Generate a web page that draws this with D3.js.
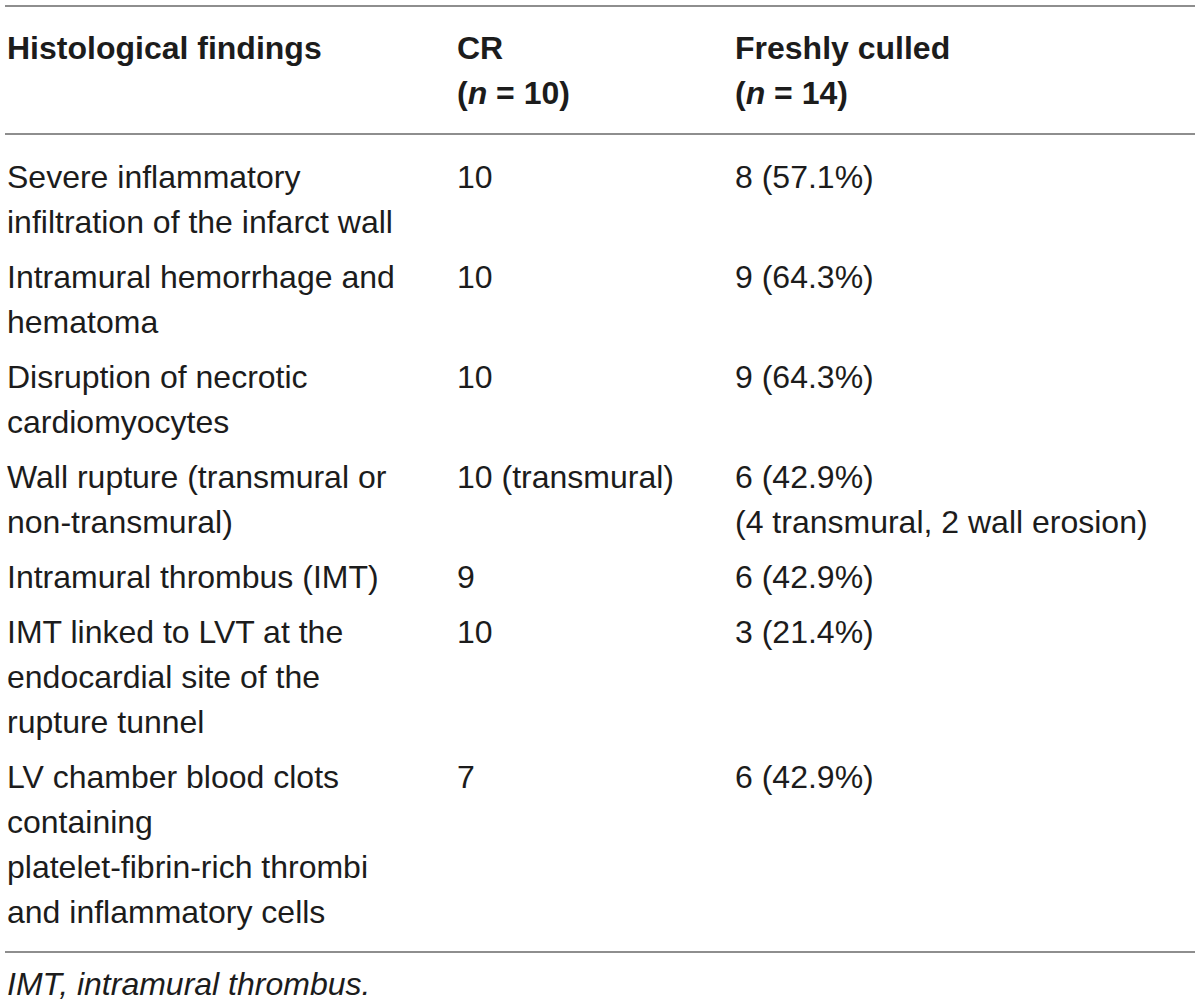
<!DOCTYPE html>
<html>
<head>
<meta charset="utf-8">
<script src="https://cdn.jsdelivr.net/npm/d3@7"></script>
<style>
  body { margin: 0; background: #fff; }
  text { font-family: "Liberation Sans", Arial, Helvetica, sans-serif; font-size: 32px; fill: #1c1c1c; }
</style>
</head>
<body>
<div id="table"></div>
<script>
// Column headers: first line, and the group size shown on the second line
const columns = ["finding", "cr", "culled"];
const headerTitles = ["Histological findings", "CR", "Freshly culled"];
const headerN = [null, 10, 14];

// Row labels, already broken into lines as in the figure
const findings = [
  ["Severe inflammatory", "infiltration of the infarct wall"],
  ["Intramural hemorrhage and", "hematoma"],
  ["Disruption of necrotic", "cardiomyocytes"],
  ["Wall rupture (transmural or", "non-transmural)"],
  ["Intramural thrombus (IMT)"],
  ["IMT linked to LVT at the", "endocardial site of the", "rupture tunnel"],
  ["LV chamber blood clots", "containing", "platelet-fibrin-rich thrombi", "and inflammatory cells"]
];
const crValues = [["10"], ["10"], ["10"], ["10 (transmural)"], ["9"], ["10"], ["7"]];
const culledValues = [
  ["8 (57.1%)"],
  ["9 (64.3%)"],
  ["9 (64.3%)"],
  ["6 (42.9%)", "(4 transmural, 2 wall erosion)"],
  ["6 (42.9%)"],
  ["3 (21.4%)"],
  ["6 (42.9%)"]
];
const footnote = "IMT, intramural thrombus.";

function drawTable() {
  d3.select("#table").html("");

  const width = 1200;
  const height = 1008;
  const lineH = 45;
  const rowGap = 10;

  const svg = d3.select("#table")
    .append("svg")
    .attr("width", width)
    .attr("height", height);

  // Column positions
  const x = d3.scaleOrdinal().domain(columns).range([7, 457, 735]);

  // Build rows: each row takes as many lines as its tallest cell
  const rows = findings.map((f, i) => ({
    cells: { finding: f, cr: crValues[i], culled: culledValues[i] },
    nLines: Math.max(f.length, crValues[i].length, culledValues[i].length)
  }));
  let acc = 0;
  rows.forEach((r, i) => { r.start = acc; r.index = i; acc += r.nLines; });
  const totalLines = acc;

  // Line index -> baseline, plus a small gap per row
  const firstBaseline = 188;
  const y = d3.scaleLinear().domain([0, 1]).range([firstBaseline, firstBaseline + lineH]);
  const rowY = (r, k) => y(r.start + k) + r.index * rowGap;

  // Rules
  const ruleY = [6, 134, y(totalLines - 1) + (rows.length - 1) * rowGap + 29];
  svg.selectAll(".rule")
    .data(ruleY)
    .enter()
    .append("line")
    .attr("class", "rule")
    .attr("x1", 5)
    .attr("x2", 1195)
    .attr("y1", (d) => d)
    .attr("y2", (d) => d)
    .attr("stroke", "#8e8e8e")
    .attr("stroke-width", 2);

  // Header
  const head = svg.selectAll(".head")
    .data(columns)
    .enter()
    .append("g")
    .attr("class", "head");

  head.append("text")
    .attr("x", (d) => x(d))
    .attr("y", 59)
    .style("font-weight", "bold")
    .text((d, i) => headerTitles[i]);

  head.filter((d, i) => headerN[i] != null)
    .append("text")
    .attr("x", (d) => x(d))
    .attr("y", 104)
    .style("font-weight", "bold")
    .each(function (d) {
      const t = d3.select(this);
      const n = headerN[columns.indexOf(d)];
      t.append("tspan").text("(");
      t.append("tspan").style("font-style", "italic").text("n");
      t.append("tspan").text(" = " + n + ")");
    });

  // Body cells
  const cellData = [];
  rows.forEach((r) => {
    columns.forEach((c) => {
      r.cells[c].forEach((line, k) => {
        cellData.push({ col: c, text: line, y: rowY(r, k) });
      });
    });
  });

  svg.selectAll(".cell")
    .data(cellData)
    .enter()
    .append("text")
    .attr("class", "cell")
    .attr("x", (d) => x(d.col))
    .attr("y", (d) => d.y)
    .text((d) => d.text);

  // Footnote
  svg.append("text")
    .attr("x", 7)
    .attr("y", ruleY[2] + 43)
    .style("font-style", "italic")
    .text(footnote);
}

drawTable();
</script>
</body>
</html>
